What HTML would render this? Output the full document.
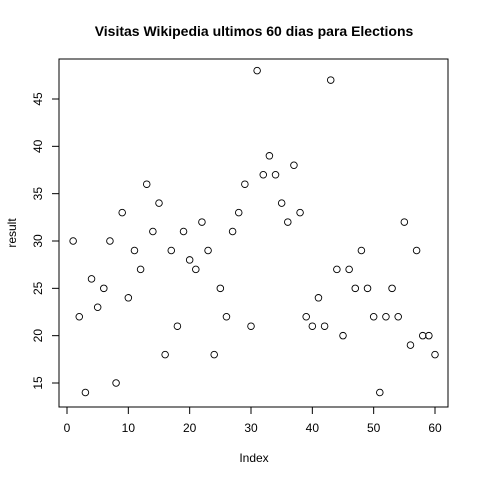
<!DOCTYPE html>
<html><head><meta charset="utf-8"><style>
html,body{margin:0;padding:0;background:#fff;}
svg{display:block;font-family:"Liberation Sans",sans-serif;}
</style></head><body>
<svg id="chart" width="480" height="480" viewBox="0 0 480 480">
<text x="254" y="36" text-anchor="middle" font-size="14" font-weight="bold">Visitas Wikipedia ultimos 60 dias para Elections</text>
<rect x="59" y="59" width="389" height="348" fill="none" stroke="#000" stroke-width="1"/>
<text x="254" y="462" text-anchor="middle" font-size="12">Index</text>
<text transform="translate(16,233) rotate(-90)" text-anchor="middle" font-size="12">result</text>
<g id="xaxis"></g>
<g id="yaxis"></g>
<g id="points"></g>
</svg>
<script>
const values = [30,22,14,26,23,25,30,15,33,24,29,27,36,31,34,18,29,21,31,28,27,32,29,18,25,22,31,33,36,21,48,37,39,37,34,32,38,33,22,21,24,21,47,27,20,27,25,29,25,22,14,22,25,22,32,19,29,20,20,18];
const xTicks = [0,10,20,30,40,50,60];
const yTicks = [15,20,25,30,35,40,45];
const NS = "http://www.w3.org/2000/svg";
function xs(v){return 67 + (v-0)*(435-67)/60;}
function ys(v){return 383 - (v-15)*(383-99)/30;}
function el(t,a,p){const e=document.createElementNS(NS,t);for(const k in a)e.setAttribute(k,a[k]);p.appendChild(e);return e;}
const xa=document.getElementById('xaxis'), ya=document.getElementById('yaxis'), pg=document.getElementById('points');
el('line',{x1:xs(xTicks[0]),x2:xs(xTicks[xTicks.length-1]),y1:407,y2:407,stroke:'#000'},xa);
xTicks.forEach(t=>{
  const l=el('line',{x1:xs(t),x2:xs(t),y1:407,y2:414,stroke:'#000'},xa);
  
  
  const tx=el('text',{x:xs(t),y:432,'text-anchor':'middle','font-size':12},xa);
  tx.textContent=t;
  
  
});
el('line',{x1:59,x2:59,y1:ys(yTicks[0]),y2:ys(yTicks[yTicks.length-1]),stroke:'#000'},ya);
yTicks.forEach(t=>{
  const l=el('line',{x1:52,x2:59,y1:ys(t),y2:ys(t),stroke:'#000'},ya);
  
  
  const tx=el('text',{transform:`translate(42,${ys(t)}) rotate(-90)`,'text-anchor':'middle','font-size':12},ya);
  tx.textContent=t;
  
  
});
values.forEach((v,i)=>{
  const c=el('circle',{cx:xs(i+1),cy:ys(v),r:3.3,fill:'none',stroke:'#000','stroke-width':0.9},pg);
  
  
});
</script>
</body></html>
